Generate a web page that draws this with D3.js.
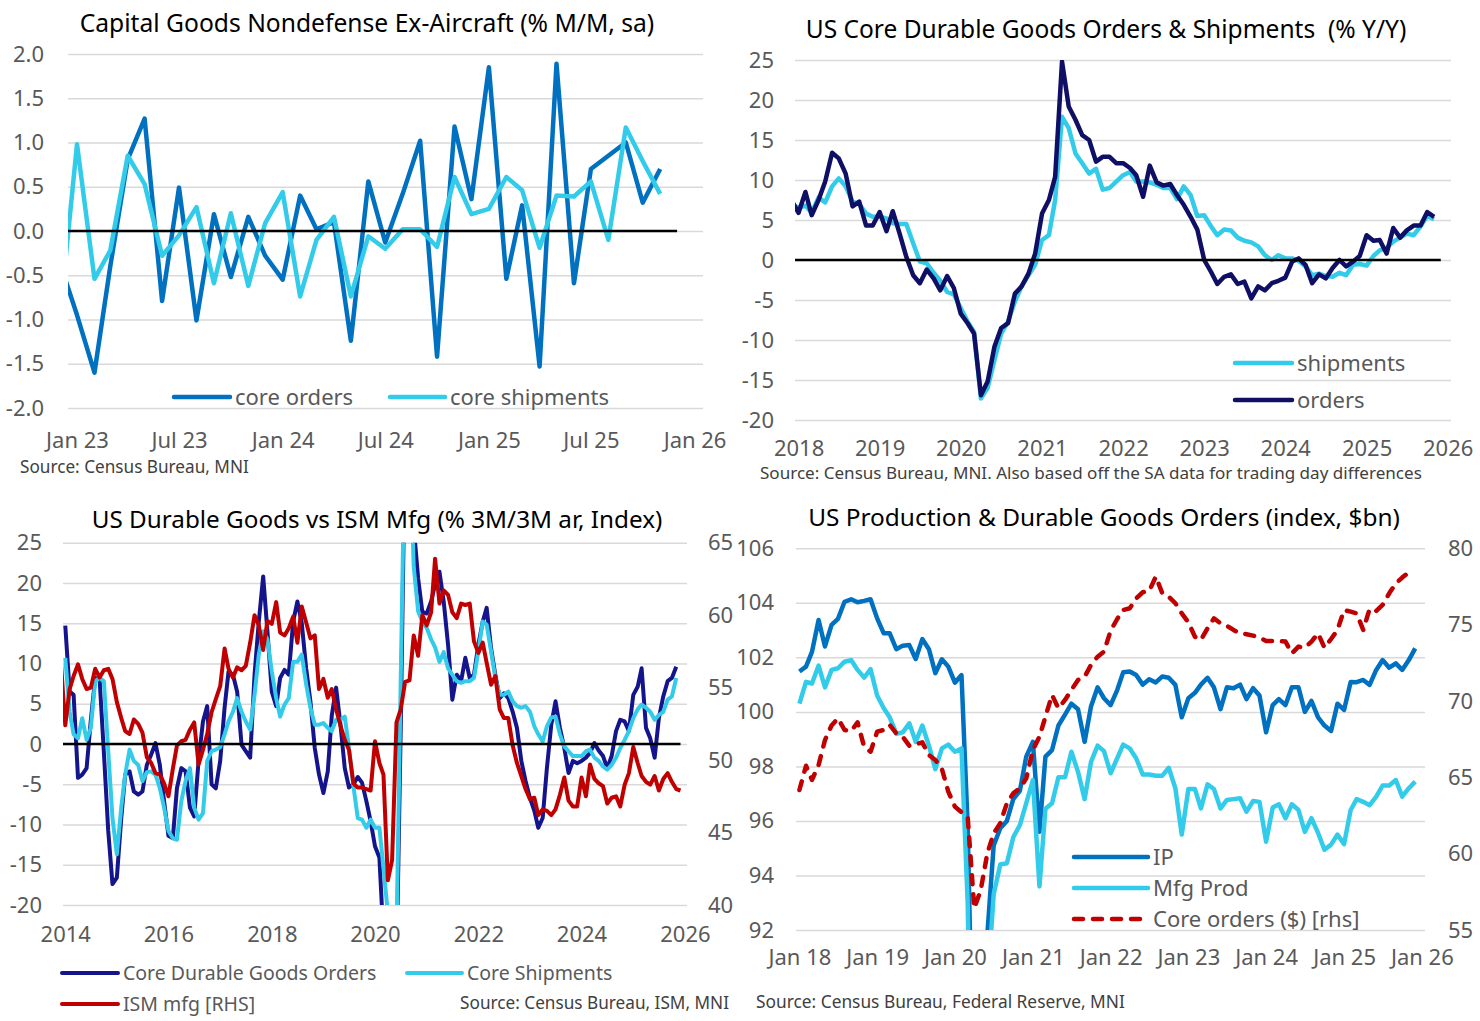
<!DOCTYPE html>
<html>
<head>
<meta charset="utf-8">
<script src="https://cdn.jsdelivr.net/npm/d3@7"></script>
<style>
  body { margin: 0; background: #fff; }
  svg { display: block; font-family: "Noto Sans", sans-serif; }
</style>
</head>
<body>
<svg id="chart" width="1480" height="1021"></svg>
<script>
// ---- data (monthly) ----

// Capital goods nondefense ex-aircraft, % m/m, Dec 2022 - Nov 2025
const capexStart = "2022-12";
const capexOrders = [-0.35, -0.95, -1.6, -0.4, 0.81, 1.27, -0.79, 0.49, -1.01, 0.19, -0.52, 0.16,
  -0.28, -0.55, 0.40, 0.02, 0.10, -1.24, 0.56, -0.13, 0.42, 1.02, -1.42, 1.18,
  0.36, 1.85, -0.54, 0.29, -1.53, 1.89, -0.59, 0.70, 0.85, 1.00, 0.32, 0.70];
const capexShipments = [-1.0, 0.98, -0.54, -0.22, 0.85, 0.53, -0.28, -0.05, 0.27, -0.59, 0.20, -0.62,
  0.09, 0.44, -0.74, -0.10, 0.16, -0.74, -0.06, -0.20, 0.02, 0.02, -0.18, 0.61,
  0.19, 0.25, 0.61, 0.46, -0.19, 0.40, 0.39, 0.56, -0.10, 1.17, 0.79, 0.42];
const capexTicks = ["2023-01", "2023-07", "2024-01", "2024-07", "2025-01", "2025-07", "2026-01"];

// Core durable goods orders & shipments, % y/y, Dec 2017 - Nov 2025
const yoyStart = "2017-12";
const yoyOrders = [7.4,
  5.9, 8.5, 5.6, 7.5, 9.8, 13.4, 12.7, 10.8, 6.7, 7.3, 4.3, 4.3,
  6.0, 3.6, 6.1, 3.3, 0.4, -1.9, -2.9, -1.2, -2.3, -3.8, -2.0, -3.5,
  -6.7, -7.9, -9.2, -16.9, -15.2, -10.8, -8.5, -7.9, -4.2, -3.3, -1.7, 0.8,
  5.8, 7.5, 10.4, 24.8, 19.2, 17.5, 15.6, 15.0, 12.3, 12.9, 12.9, 12.1,
  12.1, 11.5, 10.6, 7.9, 11.8, 9.7, 9.3, 9.5, 8.1, 6.9, 5.4, 3.8,
  0.0, -1.5, -3.0, -2.1, -1.8, -3.0, -2.7, -4.8, -3.3, -3.8, -2.9, -2.6,
  -2.2, -0.2, 0.2, -0.6, -2.9, -1.8, -2.3, -1.0, 0.0, -0.8, -0.2, 0.5,
  3.1, 2.4, 2.5, 0.8, 4.0, 2.8, 3.7, 4.3, 4.3, 6.0, 5.4];
const yoyShipments = [7.0,
  6.5, 6.8, 5.9, 7.8, 7.2, 9.2, 10.2, 9.2, 7.3, 7.0, 5.8, 5.4,
  5.4, 5.2, 4.6, 4.5, 4.5, 2.1, -0.2, -0.4, -1.6, -2.6, -4.0, -4.3,
  -6.0, -7.7, -9.0, -17.3, -16.0, -12.5, -9.2, -7.7, -5.2, -3.3, -1.9, -0.6,
  2.5, 3.1, 7.5, 17.9, 16.5, 13.3, 12.1, 10.8, 11.4, 8.8, 9.0, 9.8,
  10.6, 11.0, 9.8, 9.8, 9.7, 9.4, 9.0, 9.0, 7.6, 9.2, 8.1, 5.5,
  5.6, 4.2, 3.1, 3.8, 3.7, 2.8, 2.4, 2.2, 1.7, 0.6, 0.0, 0.6,
  0.2, 0.2, -0.1, -0.8, -1.9, -1.7, -2.0, -2.1, -1.6, -1.9, -0.6, -0.5,
  -0.7, 0.5, 1.2, 1.5, 2.3, 2.8, 3.3, 3.1, 4.2, 5.5, 5.1];
const yoyTicks = ["2018-01", "2019-01", "2020-01", "2021-01", "2022-01", "2023-01", "2024-01", "2025-01", "2026-01"];

// Durable goods % 3m/3m ar (Jan 2014 - Nov 2025) vs ISM mfg (Dec 2013 - Dec 2025)
const arStart = "2014-01";
const arOrders = [14.7, 6.5, 6.1, -4.2, -3.8, -3.0, 3.0, 8.2, 8.0, -1.0, -10.8, -17.4,
  -16.6, -9.2, -3.8, -3.4, -5.9, -6.3, -5.9, -2.6, -1.3, 0.1, -2.6, -7.1,
  -11.4, -11.7, -5.5, -3.0, -3.4, -7.9, -9.0, -2.1, 2.8, 4.7, -5.0, -5.5,
  -2.1, 4.5, 9.0, 8.6, 6.5, -0.1, -0.9, -1.7, 8.6, 15.2, 20.8, 14.0,
  6.5, 4.7, 8.2, 9.2, 8.6, 15.2, 17.7, 15.0, 9.4, 5.3, -0.5, -3.8,
  -6.1, -3.4, 3.5, 7.0, 2.5, -3.0, -5.4, -5.0, -4.1, -4.8, -7.1, -9.6,
  -12.7, -14.1, -24, -55, -50, -28, 2, 38, 50, 27, 20.6, 16.4,
  16.2, 17.7, 19.8, 21.4, 17.7, 12.3, 5.5, 8.6, 7.8, 10.7, 8.2, 8.6,
  12.3, 15.2, 16.9, 11.9, 8.6, 5.7, 6.3, 5.7, 4.0, 2.0, -2.1, -4.6,
  -6.7, -8.3, -10.4, -9.2, -3.0, 2.4, 5.3, 2.0, -0.5, -3.6, -2.1, -2.4,
  -2.1, -1.7, -1.1, 0.1, -0.8, -1.5, -3.0, -1.5, 1.6, 3.0, 2.8, 1.6,
  6.1, 7.1, 9.4, 2.0, 0.7, -1.7, 3.2, 5.9, 7.8, 8.2, 9.6];
const arShipments = [10.7, 4.0, 1.2, 0.7, 3.2, 0.5, 2.0, 7.8, 8.2, 7.8, -0.9, -9.2,
  -13.7, -7.9, -3.8, -0.7, -2.1, -2.6, -4.6, -3.5, -3.4, -3.8, -5.5, -7.9,
  -10.8, -11.7, -11.9, -7.1, -4.6, -3.0, -7.9, -9.4, -8.6, -2.1, -0.9, -0.7,
  -0.4, 1.2, 2.8, 4.0, 5.7, 4.0, 2.8, 1.8, 6.1, 11.1, 14.0, 13.0,
  9.0, 5.7, 3.4, 4.9, 5.7, 10.2, 10.2, 11.1, 7.4, 4.5, 2.4, 2.4,
  2.6, 2.0, 1.6, 3.0, 3.0, 3.4, -0.5, -5.2, -9.2, -9.4, -10.4, -9.4,
  -10.4, -10.4, -15.4, -21, -50, -24, 8, 40, 38, 22, 16.5, 15.2,
  14.4, 13.0, 12.0, 10.2, 11.4, 9.4, 8.6, 7.8, 7.6, 7.8, 7.8, 8.2,
  11.5, 15.2, 14.8, 11.5, 8.2, 6.1, 6.1, 6.5, 5.3, 4.7, 4.5, 4.7,
  4.0, 2.2, 1.2, 0.3, 2.2, 3.3, 3.4, 1.2, -0.3, -0.9, -1.5, -1.5,
  -1.5, -0.9, -0.7, -1.7, -2.1, -2.8, -3.2, -2.6, -1.7, -0.5, 0.5, 1.6,
  3.2, 4.3, 4.9, 4.5, 4.0, 3.0, 3.6, 4.0, 5.5, 5.9, 8.2];
const ismStart = "2013-12";
const ismMfg = [56.8,
  52.4, 54.9, 55.8, 56.6, 55.6, 54.9, 55.0, 56.3, 55.7, 56.2, 56.3, 55.6,
  54.0, 52.9, 52.0, 51.8, 52.8, 52.5, 51.9, 50.2, 49.8, 49.1, 49.0, 48.4,
  47.5, 49.4, 51.0, 51.3, 51.4, 52.1, 52.6, 49.7, 50.7, 51.8, 53.3, 54.2,
  55.1, 57.7, 56.3, 55.7, 56.4, 56.2, 56.5, 58.1, 60.0, 59.3, 57.6, 59.6,
  59.4, 60.9, 58.8, 58.6, 59.1, 59.9, 58.1, 60.6, 59.5, 58.4, 58.6, 54.9,
  55.6, 54.3, 54.9, 53.5, 52.4, 51.4, 50.7, 48.4, 48.1, 48.1, 48.0, 47.9,
  51.3, 49.8, 49.0, 41.7, 43.1, 52.6, 53.5, 55.4, 55.5, 58.6, 57.2, 60.0,
  59.3, 60.2, 63.9, 60.8, 61.7, 61.4, 60.2, 59.8, 60.8, 60.7, 60.8, 58.2,
  57.4, 58.1, 56.7, 55.2, 55.8, 53.5, 52.9, 52.9, 51.0, 49.8, 48.9, 48.0,
  47.3, 47.4, 46.2, 46.6, 46.5, 46.2, 46.6, 47.6, 48.8, 47.2, 46.8, 46.8,
  48.8, 47.5, 49.7, 48.7, 48.4, 48.2, 47.0, 47.4, 47.5, 46.8, 48.3, 49.1,
  50.9, 49.8, 48.9, 48.5, 48.3, 48.9, 47.9, 48.7, 49.1, 48.5, 48.0, 47.9];
const arTicks = ["2014-01", "2016-01", "2018-01", "2020-01", "2022-01", "2024-01", "2026-01"];

// Industrial production & mfg output (index, Jan 2018 - Dec 2025), core orders $bn (to Nov 2025)
const prodStart = "2018-01";
const indProd = [101.48, 101.66, 102.2, 103.37, 102.4, 103.19, 103.41, 104.04, 104.13, 104.02, 104.07, 104.13,
  103.43, 102.88, 102.88, 102.3, 102.43, 102.45, 101.94, 102.67, 102.3, 101.42, 101.93, 101.66,
  101.07, 101.35, 95.8, 84.5, 86.2, 91.8, 95.1, 95.73, 96.0, 96.8, 97.1, 98.36,
  98.9, 95.6, 98.36, 98.6, 99.5, 99.9, 100.3, 100.1, 98.9, 100.2, 100.9, 100.5,
  100.25, 100.8, 101.45, 101.48, 101.35, 101.0, 101.2, 101.08, 101.3, 101.25, 100.99, 99.8,
  100.5, 100.7, 101.0, 101.25, 100.9, 100.1, 100.9, 100.87, 101.0, 100.47, 100.87, 100.6,
  99.25, 100.25, 100.47, 100.25, 100.9, 100.9, 100.0, 100.4, 99.8, 99.5, 99.3, 100.3,
  100.07, 101.1, 101.09, 101.17, 100.99, 101.54, 101.9, 101.62, 101.78, 101.54, 101.9, 102.33];
const mfgProd = [100.3, 101.1, 101.04, 101.7, 100.9, 101.54, 101.6, 101.84, 101.9, 101.54, 101.26, 101.57,
  100.6, 100.13, 99.8, 99.2, 99.25, 99.58, 98.9, 99.5, 98.76, 97.9, 98.66, 98.8,
  98.54, 98.66, 93.0, 79.5, 83.0, 89.8, 93.3, 94.4, 94.45, 95.4, 95.85, 96.65,
  97.5, 93.6, 96.45, 96.65, 97.6, 97.6, 98.54, 97.8, 96.8, 98.17, 98.76, 98.56,
  97.75, 98.3, 98.8, 98.66, 98.3, 97.7, 97.7, 97.66, 97.66, 97.95, 97.2, 95.5,
  97.17, 97.17, 96.46, 97.34, 97.17, 96.46, 96.77, 96.8, 96.83, 96.34, 96.73, 96.7,
  95.24, 96.49, 96.61, 96.1, 96.61, 96.4, 95.6, 96.1, 95.56, 94.95, 95.13, 95.5,
  95.15, 96.4, 96.8, 96.7, 96.58, 96.89, 97.3, 97.3, 97.5, 96.89, 97.2, 97.44];
const coreOrdersBn = [64.17, 65.76, 64.83, 65.8, 67.44, 68.4, 68.86, 68.1, 68.03, 68.6, 67.0, 66.68,
  67.99, 68.1, 68.43, 67.88, 67.66, 67.07, 67.16, 67.29, 66.46, 66.14, 65.55, 64.06,
  63.08, 62.71, 62.42, 56.42, 57.6, 60.0, 61.33, 61.99, 63.3, 63.95, 64.28, 64.93,
  66.79, 67.66, 68.97, 70.39, 69.52, 70.07, 70.72, 71.38, 71.59, 72.36, 72.9, 73.23,
  74.6, 75.37, 75.96, 76.07, 76.72, 77.12, 77.2, 78.14, 77.05, 76.83, 76.4, 75.74,
  75.15, 74.21, 74.0, 74.76, 75.41, 75.09, 74.93, 74.65, 74.43, 74.37, 74.28, 74.15,
  73.93, 73.93, 73.93, 73.89, 73.12, 73.56, 73.49, 73.89, 74.43, 73.49, 74.06, 74.65,
  75.96, 75.85, 75.74, 74.65, 76.03, 75.9, 76.29, 77.05, 77.7, 78.08, 78.43];
const prodTicks = ["2018-01", "2019-01", "2020-01", "2021-01", "2022-01", "2023-01", "2024-01", "2025-01", "2026-01"];

// ---- helpers ----
const BLUE = "#0070c0", CYAN = "#33cbea", NAVY = "#0f0f66", NAVY2 = "#14148c", RED = "#c00000";
const TEXT = "#595959";
const parseMonth = d3.timeParse("%Y-%m");
const zeroEnd = parseMonth("2025-12"); // the zero rule runs to Dec 2025
const axisEnd = new Date(2026, 0, 16);  // half a month past the last tick

const svg = d3.select("#chart");

function series(start, values) {
  const d0 = parseMonth(start);
  return values.map((v, i) => ({ date: d3.timeMonth.offset(d0, i), v }));
}

function minus(f) { return d => f(d).replace("\u2212", "-"); }

function styleAxis(s) {
  s.attr("font-family", null).attr("font-size", 22);
  s.select(".domain").remove();
  s.selectAll("text").attr("fill", TEXT);
}

// fit a text to the width it takes in the reference
function fitText(t, width, size) {
  t.attr("font-size", size);
  const w = t.node().getComputedTextLength();
  t.attr("font-size", size * width / w);
}

function panel(o) {
  const g = svg.append("g");
  const x = d3.scaleTime().domain([new Date(o.first.getFullYear(), o.first.getMonth() - 1, 16), axisEnd])
    .range([o.x0, o.x1]);
  const y = d3.scaleLinear().domain(o.yDomain).range([o.y1, o.y0]);

  g.append("clipPath").attr("id", "clip" + o.id)
    .append("rect")
    .attr("x", o.x0).attr("y", o.y0)
    .attr("width", o.x1 - o.x0).attr("height", o.y1 - o.y0);

  // gridlines
  g.append("g")
    .attr("transform", `translate(${o.x0},0)`)
    .call(d3.axisLeft(y).tickValues(o.yTicks).tickSize(-(o.x1 - o.x0)).tickFormat(""))
    .call(s => s.select(".domain").remove())
    .selectAll("line").attr("stroke", "#d9d9d9").attr("stroke-width", 1.5);

  g.append("g")
    .attr("transform", `translate(${o.yLabelX},0)`)
    .call(d3.axisLeft(y).tickValues(o.yTicks).tickSize(0).tickPadding(0).tickFormat(o.yFormat))
    .call(styleAxis);

  g.append("g")
    .attr("transform", `translate(0,${o.xLabelBase - 0.71 * 22})`)
    .call(d3.axisBottom(x).tickValues(o.xTicks.map(parseMonth)).tickSize(0).tickPadding(0)
      .tickFormat(d3.timeFormat(o.xFormat)))
    .call(styleAxis);

  const title = g.append("text")
    .attr("x", o.titleX).attr("y", o.titleY)
    .attr("text-anchor", "middle")
    .attr("fill", "#000")
    .style("white-space", "pre")
    .text(o.title);
  fitText(title, o.titleW, 24);

  const src = g.append("text")
    .attr("x", o.srcX).attr("y", o.srcY)
    .attr("text-anchor", o.srcAnchor || "start")
    .attr("fill", "#404040")
    .text(o.source);
  fitText(src, o.srcW, 16);

  return { g, x, y, clip: `url(#clip${o.id})` };
}

function drawLine(p, y, data, color, width, dash) {
  const line = d3.line().x(d => p.x(d.date)).y(d => y(d.v));
  p.g.append("path")
    .datum(data)
    .attr("clip-path", p.clip)
    .attr("fill", "none")
    .attr("stroke", color)
    .attr("stroke-width", width)
    .attr("stroke-linejoin", "round")
    .attr("stroke-linecap", dash ? "round" : "butt")
    .attr("stroke-dasharray", dash || null)
    .attr("d", line);
}

function zeroRule(p) {
  p.g.append("line")
    .attr("x1", p.x.range()[0]).attr("x2", p.x(zeroEnd))
    .attr("y1", p.y(0)).attr("y2", p.y(0))
    .attr("stroke", "#000").attr("stroke-width", 2.5);
}

function legendItem(p, x1, x2, y, color, width, label, dash, size) {
  p.g.append("line")
    .attr("x1", x1).attr("x2", x2).attr("y1", y).attr("y2", y)
    .attr("stroke", color).attr("stroke-width", width)
    .attr("stroke-linecap", "round")
    .attr("stroke-dasharray", dash || null);
  p.g.append("text")
    .attr("x", x2 + 5).attr("y", y).attr("dy", "0.35em")
    .attr("font-size", size || 22).attr("fill", TEXT)
    .text(label);
}

// ---- top left: capital goods m/m ----
const p1 = panel({
  id: 1, first: parseMonth("2023-01"),
  x0: 68, x1: 703, y0: 54, y1: 408,
  yDomain: [-2, 2], yTicks: d3.range(-2, 2.01, 0.5), yFormat: minus(d3.format(".1f")), yLabelX: 44,
  xTicks: capexTicks, xFormat: "%b %y", xLabelBase: 448,
  title: "Capital Goods Nondefense Ex-Aircraft (% M/M, sa)", titleX: 367, titleY: 32, titleW: 575,
  source: "Source: Census Bureau, MNI", srcX: 20, srcY: 473, srcW: 229
});
drawLine(p1, p1.y, series(capexStart, capexOrders), BLUE, 4.5);
drawLine(p1, p1.y, series(capexStart, capexShipments), CYAN, 4.5);
zeroRule(p1);
legendItem(p1, 174, 230, 397, BLUE, 4.5, "core orders");
legendItem(p1, 390, 445, 397, CYAN, 4.5, "core shipments");

// ---- top right: core durable goods y/y ----
const p2 = panel({
  id: 2, first: parseMonth("2018-01"),
  x0: 795, x1: 1451, y0: 60, y1: 420,
  yDomain: [-20, 25], yTicks: d3.range(-20, 26, 5), yFormat: minus(d3.format("d")), yLabelX: 774,
  xTicks: yoyTicks, xFormat: "%Y", xLabelBase: 456,
  title: "US Core Durable Goods Orders & Shipments  (% Y/Y)", titleX: 1106, titleY: 38, titleW: 601,
  source: "Source: Census Bureau, MNI. Also based off the SA data for trading day differences",
  srcX: 760, srcY: 479, srcW: 662
});
drawLine(p2, p2.y, series(yoyStart, yoyShipments), CYAN, 4.5);
drawLine(p2, p2.y, series(yoyStart, yoyOrders), NAVY, 4.5);
zeroRule(p2);
legendItem(p2, 1235, 1292, 363, CYAN, 4.5, "shipments");
legendItem(p2, 1235, 1292, 400, NAVY, 4.5, "orders");

// ---- bottom left: durable goods 3m/3m vs ISM ----
const p3 = panel({
  id: 3, first: parseMonth("2014-01"),
  x0: 63, x1: 687, y0: 542.7, y1: 905,
  yDomain: [-20, 25], yTicks: d3.range(-20, 26, 5), yFormat: minus(d3.format("d")), yLabelX: 42,
  xTicks: arTicks, xFormat: "%Y", xLabelBase: 942,
  title: "US Durable Goods vs ISM Mfg (% 3M/3M ar, Index)", titleX: 377, titleY: 528, titleW: 571,
  source: "Source: Census Bureau, ISM, MNI", srcX: 729, srcY: 1009, srcW: 269, srcAnchor: "end"
});
const y3r = d3.scaleLinear().domain([40, 65]).range([905, 542.7]);
p3.g.append("g")
  .attr("transform", "translate(708,0)")
  .call(d3.axisRight(y3r).tickValues(d3.range(40, 66, 5)).tickSize(0).tickPadding(0))
  .call(styleAxis);
drawLine(p3, p3.y, series(arStart, arOrders), NAVY2, 4);
drawLine(p3, p3.y, series(arStart, arShipments), CYAN, 4);
drawLine(p3, y3r, series(ismStart, ismMfg), RED, 4);
zeroRule(p3);
legendItem(p3, 62, 118, 973, NAVY2, 4, "Core Durable Goods Orders", null, 19.5);
legendItem(p3, 407, 462, 973, CYAN, 4, "Core Shipments", null, 19.5);
legendItem(p3, 62, 118, 1004, RED, 4, "ISM mfg [RHS]", null, 19.5);

// ---- bottom right: production & core orders ----
const p4 = panel({
  id: 4, first: parseMonth("2018-01"),
  x0: 796, x1: 1425, y0: 548.3, y1: 930,
  yDomain: [92, 106], yTicks: d3.range(92, 107, 2), yFormat: d3.format("d"), yLabelX: 774,
  xTicks: prodTicks, xFormat: "%b %y", xLabelBase: 965,
  title: "US Production & Durable Goods Orders (index, $bn)", titleX: 1104, titleY: 526, titleW: 592,
  source: "Source: Census Bureau, Federal Reserve, MNI", srcX: 756, srcY: 1008, srcW: 369
});
const y4r = d3.scaleLinear().domain([55, 80]).range([930, 548.3]);
p4.g.append("g")
  .attr("transform", "translate(1448,0)")
  .call(d3.axisRight(y4r).tickValues(d3.range(55, 81, 5)).tickSize(0).tickPadding(0))
  .call(styleAxis);
drawLine(p4, p4.y, series(prodStart, indProd), BLUE, 4.5);
drawLine(p4, p4.y, series(prodStart, mfgProd), CYAN, 4.5);
drawLine(p4, y4r, series(prodStart, coreOrdersBn), RED, 4.5, "9,10");
legendItem(p4, 1074, 1148, 857, BLUE, 4.5, "IP");
legendItem(p4, 1074, 1148, 888, CYAN, 4.5, "Mfg Prod");
legendItem(p4, 1074, 1148, 919, RED, 4.5, "Core orders ($) [rhs]", "9,10");
</script>
</body>
</html>
